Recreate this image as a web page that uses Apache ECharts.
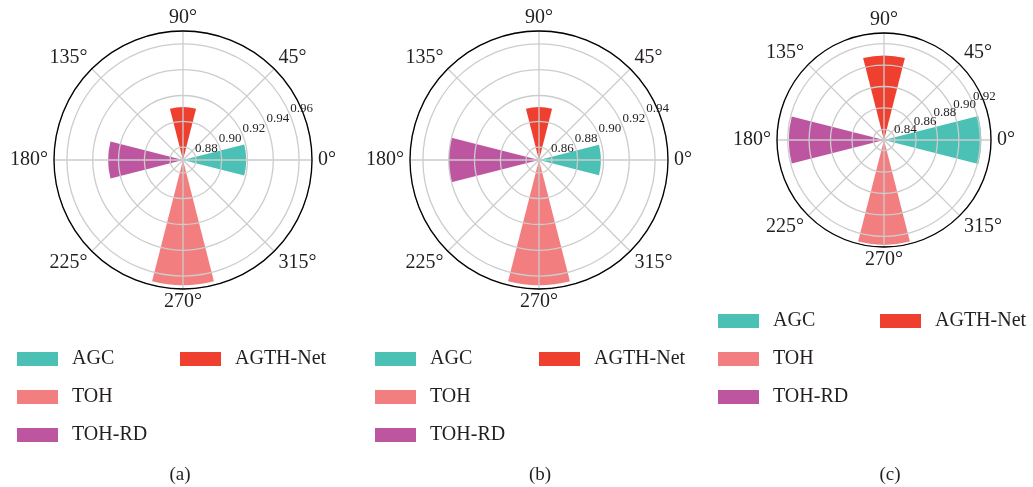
<!DOCTYPE html>
<html><head><meta charset="utf-8">
<script src="https://cdn.jsdelivr.net/npm/echarts@6/dist/echarts.min.js"></script>
<style>html,body{margin:0;padding:0;background:#fff}#c{width:1033px;height:487px}</style>
</head><body><div id="c"></div>
<script>
// ---- data ----
const seriesNames = ['AGC', 'AGTH-Net', 'TOH', 'TOH-RD'];
const seriesAngles = [0, 90, 270, 180];
const valuesA = [0.919, 0.911, 0.967, 0.928];
const valuesB = [0.898, 0.891, 0.947, 0.920];
const valuesC = [0.921, 0.909, 0.928, 0.919];
const radiusMin = [0.87, 0.85, 0.83];
const radiusMax = [0.97, 0.95, 0.93];
const panelLabels = ['(a)', '(b)', '(c)'];
const legendColA = ['AGC', 'TOH', 'TOH-RD'];
const legendColB = ['AGTH-Net'];

// ---- styles / layout ----
const colors = {'AGC': '#4bc0b4', 'AGTH-Net': '#ee3f2f', 'TOH': '#f37e7f', 'TOH-RD': '#bd55a0'};
const FONT = 'Liberation Serif';
const TXT = '#231f20';
const GRID = '#cccccc';
const panels = [
  {cx: 183, cy: 160, r: 129, legX1: 17, legX2: 180, legY: 349, cap: 175},
  {cx: 539, cy: 160, r: 129, legX1: 375, legX2: 539, legY: 349, cap: 535},
  {cx: 884, cy: 140, r: 107, legX1: 718, legX2: 880, legY: 311, cap: 885}
];
const allValues = [valuesA, valuesB, valuesC];

const polar = [], angleAxis = [], radiusAxis = [], series = [], legend = [], title = [];
panels.forEach((p, k) => {
  polar.push({center: [p.cx, p.cy], radius: [0, p.r]});
  angleAxis.push({
    polarIndex: k, type: 'value', min: 0, max: 360, interval: 45,
    startAngle: 0, clockwise: false, z: 4,
    axisLine: {show: true, lineStyle: {color: '#000', width: 1.3}},
    axisTick: {show: false},
    axisLabel: {formatter: '{value}°', fontFamily: FONT, fontSize: 20, lineHeight: 14, color: TXT, margin: 6},
    splitLine: {show: true, lineStyle: {color: GRID, width: 1.3}}
  });
  radiusAxis.push({
    polarIndex: k, type: 'value', min: radiusMin[k], max: radiusMax[k], splitNumber: 5, z: 3,
    axisLine: {show: false}, axisTick: {show: false}, axisLabel: {show: false},
    splitLine: {show: true, lineStyle: {color: GRID, width: 1.3}}
  });
  seriesNames.forEach((name, i) => {
    series.push({
      type: 'bar', name: name, coordinateSystem: 'polar', polarIndex: k,
      data: [[allValues[k][i], seriesAngles[i]]],
      barWidth: 28.6, barGap: '-100%',
      itemStyle: {color: colors[name]}, z: 2
    });
  });
  const legCommon = {
    orient: 'vertical', padding: 0, itemWidth: 41, itemHeight: 14, itemGap: 18,
    icon: 'rect', selectedMode: false,
    textStyle: {fontFamily: FONT, fontSize: 20, color: TXT, lineHeight: 16, padding: [0, 0, 0, 9]}
  };
  legend.push(Object.assign({}, legCommon, {left: p.legX1, top: p.legY, data: legendColA}));
  legend.push(Object.assign({}, legCommon, {left: p.legX2, top: p.legY, data: legendColB}));
  title.push({text: panelLabels[k], left: p.cap, top: 461, textAlign: 'center',
    textStyle: {fontFamily: FONT, fontSize: 19, fontWeight: 'normal', color: TXT}});
});
// overlay polars carrying the radial tick labels at 22.5°
panels.forEach((p, k) => {
  polar.push({center: [p.cx, p.cy], radius: [0, p.r]});
  angleAxis.push({polarIndex: k + 3, type: 'value', min: 0, max: 360, startAngle: 22.5, clockwise: false, show: false});
  radiusAxis.push({
    polarIndex: k + 3, type: 'value', min: radiusMin[k], max: radiusMax[k], splitNumber: 5, z: 5,
    axisLine: {show: false}, axisTick: {show: false}, splitLine: {show: false},
    axisLabel: {show: true, align: 'left', verticalAlign: 'bottom', margin: 0,
      showMinLabel: false, showMaxLabel: false,
      formatter: v => v.toFixed(2),
      fontFamily: FONT, fontSize: 13, color: TXT}
  });
});

const chart = echarts.init(document.getElementById('c'));
chart.setOption({
  backgroundColor: '#fff', animation: false,
  title, polar, angleAxis, radiusAxis, legend, series
});
</script></body></html>
